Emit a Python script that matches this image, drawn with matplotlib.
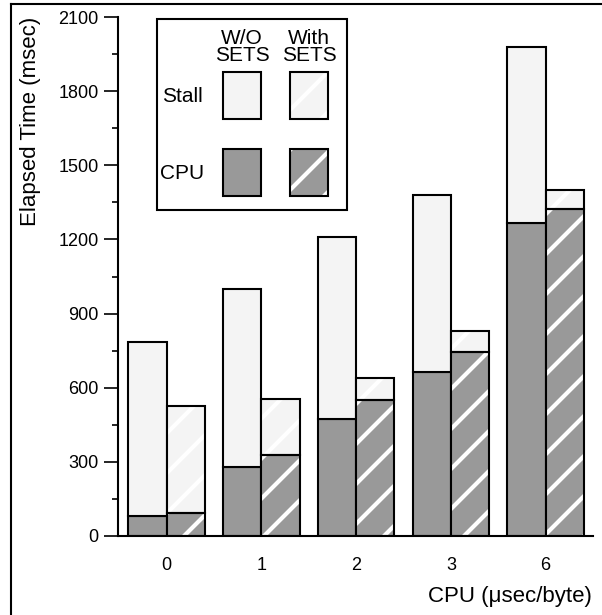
import matplotlib
matplotlib.use('Agg')
import matplotlib.pyplot as plt
from matplotlib.patches import Rectangle
from matplotlib.lines import Line2D
from matplotlib.ticker import MultipleLocator
import numpy as np

# hatch spacing follows dpi, so work at 120 dpi and scale point sizes back
DPI = 120
k = 100 / DPI

plt.rcParams['font.family'] = ['Liberation Sans', 'DejaVu Sans']
plt.rcParams['hatch.linewidth'] = 3.0 * k

# values (msec)
categories = ['0', '1', '2', '3', '6']
wo_total = np.array([785, 1000, 1210, 1380, 1980])
wo_cpu = np.array([80, 280, 473, 665, 1265])
with_total = np.array([527, 553, 640, 830, 1402])
with_cpu = np.array([95, 328, 551, 745, 1322])

wo_stall = wo_total - wo_cpu
with_stall = with_total - with_cpu

stall_color = '#f4f4f4'
cpu_color = '#999999'
w = 0.404
lw = 1.5 * k

fig = plt.figure(figsize=(602 / DPI, 615 / DPI), dpi=DPI)
ax = fig.add_axes([118 / 602, 79 / 615, 475 / 602, 519 / 615])
x = np.arange(len(categories))

# W/O SETS : left bar of each pair
ax.bar(x, wo_cpu, -w, align='edge', color=cpu_color, edgecolor='black', linewidth=lw)
ax.bar(x, wo_stall, -w, bottom=wo_cpu, align='edge', color=stall_color, edgecolor='black', linewidth=lw)

# With SETS : right bar, white stripes then black outline on top
ax.bar(x, with_cpu, w, align='edge', color=cpu_color, edgecolor='white', hatch='/', linewidth=0)
ax.bar(x, with_stall, w, bottom=with_cpu, align='edge', color=stall_color, edgecolor='white', hatch='/', linewidth=0)
ax.bar(x, with_cpu, w, align='edge', fill=False, edgecolor='black', linewidth=lw)
ax.bar(x, with_stall, w, bottom=with_cpu, align='edge', fill=False, edgecolor='black', linewidth=lw)

ax.set_xlim(-0.514, 4.5)
ax.set_ylim(0, 2100)
ax.set_xticks(x)
ax.set_xticklabels(categories)
ax.yaxis.set_major_locator(MultipleLocator(300))
ax.yaxis.set_minor_locator(MultipleLocator(150))
ax.tick_params(axis='x', length=0, pad=15 * k, labelsize=13 * k)
ax.tick_params(axis='y', which='major', length=10 * k, width=1.2 * k, pad=4 * k, labelsize=13 * k)
ax.tick_params(axis='y', which='minor', length=4.5 * k, width=1.2 * k)
for s in ['top', 'right']:
    ax.spines[s].set_visible(False)
for s in ['left', 'bottom']:
    ax.spines[s].set_linewidth(lw)

ax.set_ylabel('Elapsed Time (msec)', fontsize=16 * k)
ax.yaxis.set_label_coords(-0.162, 0.798)
ax.set_xlabel('CPU (\u03bcsec/byte)', fontsize=16 * k, ha='right', va='center')
ax.xaxis.set_label_coords(0.998, -0.1175)

# legend box drawn by hand
tr = ax.transAxes
ax.add_patch(Rectangle((0.082, 0.628), 0.400, 0.368, transform=tr, fill=False,
                       edgecolor='black', linewidth=lw, clip_on=False, zorder=5))
sw_w, sw_h = 0.080, 0.091
ax.add_patch(Rectangle((0.221, 0.803), sw_w, sw_h, transform=tr, facecolor=stall_color,
                       edgecolor='black', linewidth=lw, clip_on=False, zorder=5))
ax.add_patch(Rectangle((0.221, 0.655), sw_w, sw_h, transform=tr, facecolor=cpu_color,
                       edgecolor='black', linewidth=lw, clip_on=False, zorder=5))
for yy, fc in [(0.803, stall_color), (0.655, cpu_color)]:
    ax.add_patch(Rectangle((0.362, yy), sw_w, sw_h, transform=tr, facecolor=fc,
                           edgecolor='white', hatch='/', linewidth=0, clip_on=False, zorder=5))
    ax.add_patch(Rectangle((0.362, yy), sw_w, sw_h, transform=tr, fill=False,
                           edgecolor='black', linewidth=lw, clip_on=False, zorder=6))
ax.text(0.261, 0.942, 'W/O\nSETS', transform=tr, ha='center', va='center',
        fontsize=15 * k, linespacing=0.85, zorder=6)
ax.text(0.402, 0.942, 'With\nSETS', transform=tr, ha='center', va='center',
        fontsize=15 * k, linespacing=0.85, zorder=6)
ax.text(0.135, 0.846, 'Stall', transform=tr, ha='center', va='center', fontsize=15 * k, zorder=6)
ax.text(0.135, 0.699, 'CPU', transform=tr, ha='center', va='center', fontsize=15 * k, zorder=6)

# frame around the figure (left and top edges visible)
fig.add_artist(Line2D([11 / 602, 11 / 602], [0, 1 - 4 / 615], color='black', linewidth=lw))
fig.add_artist(Line2D([11 / 602, 1], [1 - 4 / 615, 1 - 4 / 615], color='black', linewidth=lw))

fig.savefig('out.png', dpi=DPI)
